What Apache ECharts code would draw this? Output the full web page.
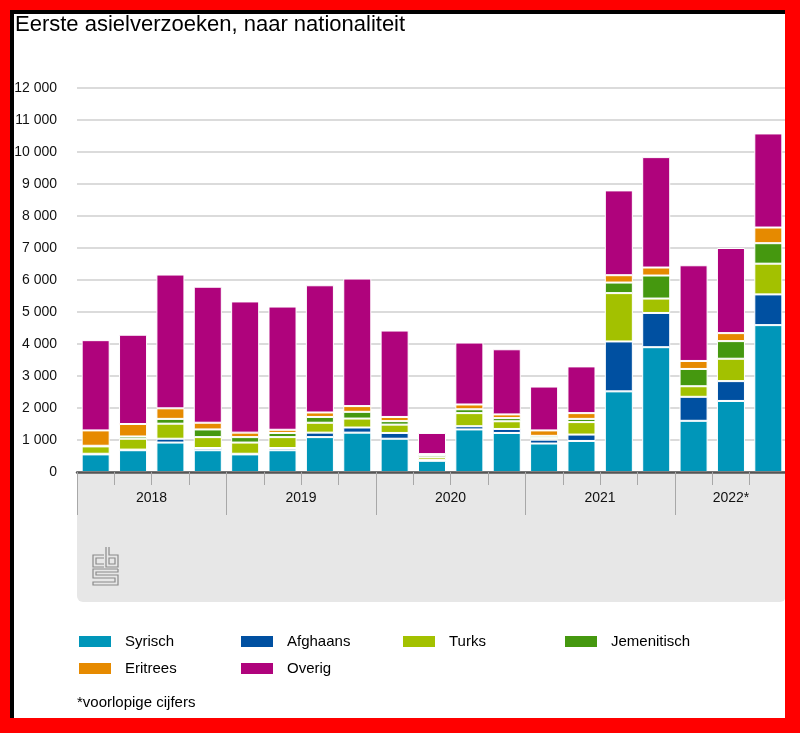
<!DOCTYPE html>
<html><head><meta charset="utf-8">
<script src="https://cdn.jsdelivr.net/npm/echarts@6/dist/echarts.min.js"></script>
<style>
html,body{margin:0;padding:0;background:#fff;}
#wrap{position:relative;width:800px;height:733px;overflow:hidden;}
#chart{position:absolute;left:0;top:0;width:800px;height:733px;}
#frame{position:absolute;left:0;top:0;width:800px;height:733px;box-sizing:border-box;border-style:solid;border-color:#ff0000;border-width:10px 15px 15px 10px;pointer-events:none;}
#frame2{position:absolute;left:10px;top:10px;width:775px;height:708px;box-sizing:border-box;border-top:4px solid #000;border-left:4px solid #000;pointer-events:none;}
</style></head>
<body>
<div id="wrap"><div id="chart"></div><div id="frame"></div><div id="frame2"></div></div>
<script>
const quarters = ['2018 Q1','2018 Q2','2018 Q3','2018 Q4','2019 Q1','2019 Q2','2019 Q3','2019 Q4','2020 Q1','2020 Q2','2020 Q3','2020 Q4','2021 Q1','2021 Q2','2021 Q3','2021 Q4','2022 Q1','2022 Q2','2022 Q3'];
const years = ['2018','2019','2020','2021','2022*'];
const seriesNames = ['Syrisch','Afghaans','Turks','Jemenitisch','Eritrees','Overig'];
const syrisch     = [550,680,920,680,550,680,1090,1230,1040,350,1330,1220,890,970,2520,3900,1600,2220,4590];
const afghaans    = [20,20,120,70,20,70,140,160,180,30,100,125,120,200,1560,1070,750,620,960];
const turks       = [230,340,470,340,350,340,310,280,260,80,410,240,50,390,1510,450,330,700,960];
const jemenitisch = [20,70,150,240,170,130,180,210,110,70,120,100,70,100,330,720,540,550,640];
const eritrees    = [480,390,330,210,140,100,140,180,130,30,150,115,170,180,230,250,250,250,490];
const overig      = [2820,2790,4180,4250,4100,3850,3975,3985,2700,660,1935,2035,1370,1460,2650,3450,2990,2660,2940];
const yTicks = {min:0, max:12000, interval:1000};
const footnote = '*voorlopige cijfers';
const titleText = 'Eerste asielverzoeken, naar nationaliteit';

const colors = ['#0096b9','#0050a1','#a3c100','#45980f','#e68a00','#af037c'];
const values = [syrisch, afghaans, turks, jemenitisch, eritrees, overig];
const FONT = '"Liberation Sans", Arial, sans-serif';

const chart = echarts.init(document.getElementById('chart'), null, {renderer:'canvas'});

const yearStart = [0,4,8,12,16];
const yearSize = [4,4,4,4,3];
const labelAt = {};
years.forEach((y,i)=>{
  const mid = yearStart[i] + Math.floor((yearSize[i]-1)/2);
  labelAt[mid] = {text:y, shift: yearSize[i]%2===0};
});

const legendPos = [[77,634],[239,634],[401,634],[563,634],[77,661],[239,661]];

const option = {
  animation:false,
  textStyle:{fontFamily:FONT},
  title:[
    {text:titleText, left:15, top:14, padding:0, textStyle:{fontSize:22, fontWeight:'normal', color:'#000', fontFamily:FONT}},
    {text:footnote, left:77, top:695, padding:0, textStyle:{fontSize:15, fontWeight:'normal', color:'#000', fontFamily:FONT}}
  ],
  legend: seriesNames.map((n,i)=>({
    data:[n], left:legendPos[i][0], top:legendPos[i][1], padding:0,
    icon:'rect', itemWidth:34, itemHeight:13, selectedMode:false,
    textStyle:{fontSize:15, color:'#000', fontFamily:FONT, padding:[0,0,0,8]}
  })),
  grid:{left:77, right:13, top:88, bottom:261, containLabel:false},
  xAxis:[
    {type:'category', data:quarters, position:'bottom',
     axisLine:{show:true, lineStyle:{color:'#555', width:2.5}},
     axisTick:{show:true, length:13, interval:0, lineStyle:{color:'#a8a8a8', width:1}},
     axisLabel:{show:false}, splitLine:{show:false}, z:3},
    {type:'category', data:quarters, position:'bottom', offset:0,
     axisLine:{show:false},
     axisTick:{show:true, length:43, interval:function(i){return i%4===0 && i<19;}, lineStyle:{color:'#a8a8a8', width:1}},
     axisLabel:{show:true, interval:0, margin:19, fontSize:14, color:'#111', fontFamily:FONT,
       formatter:function(v,i){ const l = labelAt[i]; if(!l) return ''; return l.shift ? '{s|'+l.text+'}' : '{n|'+l.text+'}'; },
       rich:{s:{padding:[0,0,0,37], fontSize:14, color:'#111', fontFamily:FONT}, n:{fontSize:14, color:'#111', fontFamily:FONT}}},
     splitLine:{show:false}, z:3}
  ],
  yAxis:{type:'value', min:yTicks.min, max:yTicks.max, interval:yTicks.interval,
    axisLine:{show:false}, axisTick:{show:false},
    axisLabel:{margin:20, fontSize:14, color:'#111', fontFamily:FONT,
      formatter:function(v){return String(v).replace(/\B(?=(\d{3})+(?!\d))/g,' ');}},
    splitLine:{lineStyle:{color:'#cfcfcf', width:1.5}}},
  graphic:[
    {type:'rect', z:-10, shape:{x:77, y:472, width:709, height:130, r:[0,0,6,6]}, style:{fill:'#e7e7e7'}},
    {type:'group', z:-5, children:[
      {type:'polyline', shape:{points:[[104,555],[93,555],[93,567],[104,567]]}, style:{stroke:'#8a8a8a', lineWidth:1.2, fill:null}},
      {type:'polyline', shape:{points:[[104,558],[96,558],[96,564],[104,564]]}, style:{stroke:'#8a8a8a', lineWidth:1.2, fill:null}},
      {type:'polyline', shape:{points:[[106,547],[106,567],[118,567],[118,555],[109,555],[109,547]]}, style:{stroke:'#8a8a8a', lineWidth:1.2, fill:null}},
      {type:'rect', shape:{x:109, y:558, width:6, height:6}, style:{stroke:'#8a8a8a', lineWidth:1.2, fill:null}},
      {type:'polyline', shape:{points:[[118,569],[93,569],[93,578],[115,578],[115,582],[93,582],[93,585],[118,585],[118,575],[96,575],[96,572],[118,572],[118,569]]}, style:{stroke:'#8a8a8a', lineWidth:1.2, fill:null}}
    ]}
  ],
  series: seriesNames.map((n,i)=>({
    name:n, type:'bar', stack:'total', data:values[i], xAxisIndex:0,
    barCategoryGap:'25%',
    itemStyle:{color:colors[i], borderColor:'#fff', borderWidth:1},
    emphasis:{disabled:true}
  }))
};
chart.setOption(option);
</script>
</body></html>
